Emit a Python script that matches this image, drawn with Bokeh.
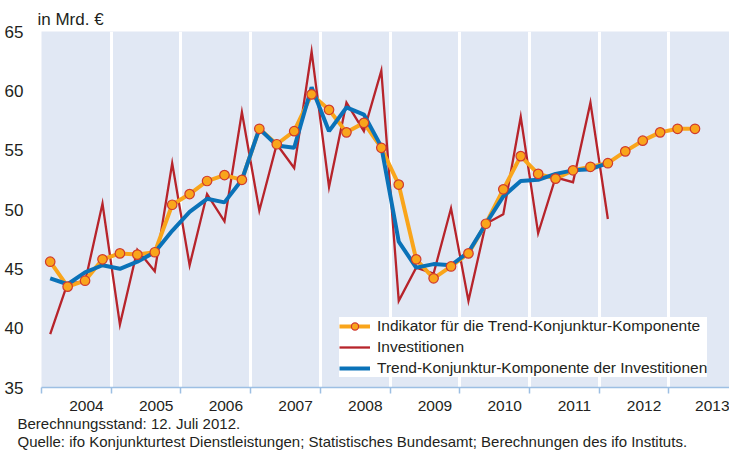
from bokeh.plotting import figure
from bokeh.models import (FixedTicker, Title, Range1d, Legend,
                          LegendItem, Grid, ColumnDataSource, LinearAxis)
from bokeh.embed import file_html
from bokeh.resources import INLINE

# ---------------- data (quarterly, in Mrd. EUR) ----------------
years = [2004, 2005, 2006, 2007, 2008, 2009, 2010, 2011, 2012, 2013]
year_labels = [str(y) for y in years]
quarters_ind = [f"{y}Q{q}" for y in range(2004, 2014) for q in range(1, 5)][:38]
quarters_inv = quarters_ind[:33]

indikator = [45.6, 43.5, 44.0, 45.8, 46.3, 46.2, 46.4, 50.4,
             51.3, 52.4, 52.9, 52.5, 56.8, 55.5, 56.6, 59.7,
             58.4, 56.5, 57.3, 55.2, 52.1, 45.8, 44.2, 45.2,
             46.3, 48.8, 51.7, 54.5, 53.0, 52.6, 53.3, 53.6,
             53.9, 54.9, 55.8, 56.5, 56.8, 56.8]
investitionen = [39.5, 43.8, 43.9, 50.5, 40.3, 46.6, 44.8, 53.9,
                 45.3, 51.3, 49.0, 58.2, 49.9, 55.5, 53.5, 63.3,
                 51.9, 59.0, 56.6, 61.7, 42.3, 45.1, 44.6, 50.1,
                 42.3, 48.8, 49.6, 57.8, 48.0, 52.7, 52.3, 59.0,
                 49.2]
trend = [44.2, 43.7, 44.7, 45.3, 45.0, 45.6, 46.4, 48.2,
         49.8, 50.9, 50.6, 52.5, 56.8, 55.4, 55.2, 60.3,
         56.6, 58.6, 58.0, 55.3, 47.3, 45.1, 45.4, 45.3,
         46.4, 48.8, 51.1, 52.4, 52.5, 53.0, 53.3, 53.4,
         53.9]

footer_lines = ["Berechnungsstand: 12. Juli 2012.",
                "Quelle: ifo Konjunkturtest  Dienstleistungen; Statistisches Bundesamt; Berechnungen des ifo Instituts."]


def qpos(label):
    y, q = label.split("Q")
    return int(y) + (int(q) - 0.5) / 4.0


x_ind = [qpos(q) for q in quarters_ind]
x_inv = [qpos(q) for q in quarters_inv]

FONT = "Liberation Sans"
TXT = "#231f20"
BG = "#E1E8F4"
ORANGE = "#F9A51B"
RED = "#B7242B"
BLUE = "#0A72B8"
AXIS_COL = "#9DBFE3"

p = figure(width=729, height=456, output_backend="svg", toolbar_location=None,
           x_range=Range1d(2004.0, 2013.87), y_range=Range1d(35, 65),
           x_axis_location=None,
           min_border_left=41, min_border_right=0, min_border_top=31,
           min_border_bottom=69)
p.background_fill_color = BG
p.border_fill_color = "white"
p.outline_line_color = None
p.ygrid.grid_line_color = None
p.xgrid.grid_line_color = None

# year separators
p.add_layout(Grid(dimension=0, ticker=FixedTicker(ticks=years[1:]),
                  grid_line_color="white", grid_line_width=3))

# y axis
ya = p.yaxis[0]
ya.ticker = FixedTicker(ticks=[35, 40, 45, 50, 55, 60, 65])
ya.axis_line_color = None
ya.major_tick_line_color = None
ya.minor_tick_line_color = None
ya.major_label_text_font = FONT
ya.major_label_text_font_size = "17px"
ya.major_label_text_color = TXT
ya.major_label_standoff = 12

# x axis: labels in the middle of each year, tick marks at year boundaries
label_pos = [y + 0.645 for y in years]
xa = LinearAxis(ticker=FixedTicker(ticks=label_pos, minor_ticks=years),
                major_label_overrides={lp: lab for lp, lab in zip(label_pos, year_labels)})
xa.axis_line_color = AXIS_COL
xa.axis_line_width = 1.5
xa.major_tick_line_color = None
xa.major_tick_out = 0
xa.major_tick_in = 0
xa.minor_tick_line_color = AXIS_COL
xa.minor_tick_line_width = 1.5
xa.minor_tick_out = 6
xa.minor_tick_in = 0
xa.major_label_text_font = FONT
xa.major_label_text_font_size = "15.5px"
xa.major_label_text_color = TXT
xa.major_label_standoff = 7
p.add_layout(xa, "below")

# title
p.title = Title(text="in Mrd. €", align="left", offset=-4, text_font=FONT,
                text_font_size="17px", text_font_style="normal",
                text_color=TXT, standoff=5)

foot = Title(text="\n".join(footer_lines), align="left", offset=-24,
             text_font=FONT, text_font_size="15px", text_font_style="normal",
             text_color=TXT, standoff=0, text_line_height=1.08)
p.add_layout(foot, "below")

src_ind = ColumnDataSource(dict(x=x_ind, y=indikator))
src_inv = ColumnDataSource(dict(x=x_inv, inv=investitionen, tr=trend))

r_red = p.line("x", "inv", source=src_inv, line_color=RED, line_width=2.3,
               line_join="miter")
r_or = p.line("x", "y", source=src_ind, line_color=ORANGE, line_width=4)
r_blue = p.line("x", "tr", source=src_inv, line_color=BLUE, line_width=4)
r_mk = p.scatter("x", "y", source=src_ind, marker="circle", size=9.5,
                 fill_color=ORANGE, line_color="#D03A2E", line_width=1.2)

legend = Legend(items=[
    LegendItem(label="Indikator für die Trend-Konjunktur-Komponente", renderers=[r_or, r_mk]),
    LegendItem(label="Investitionen", renderers=[r_red]),
    LegendItem(label="Trend-Konjunktur-Komponente der Investitionen", renderers=[r_blue]),
], location=(298, 10))
legend.background_fill_color = "white"
legend.background_fill_alpha = 1
legend.border_line_color = None
legend.label_text_font = FONT
legend.label_text_font_size = "15.5px"
legend.label_text_color = TXT
legend.glyph_width = 31
legend.glyph_height = 18
legend.label_height = 18
legend.label_standoff = 7
legend.spacing = 3
legend.padding = 3
legend.margin = 0
p.add_layout(legend, "center")

open("out.html", "w").write(file_html(p, INLINE))
